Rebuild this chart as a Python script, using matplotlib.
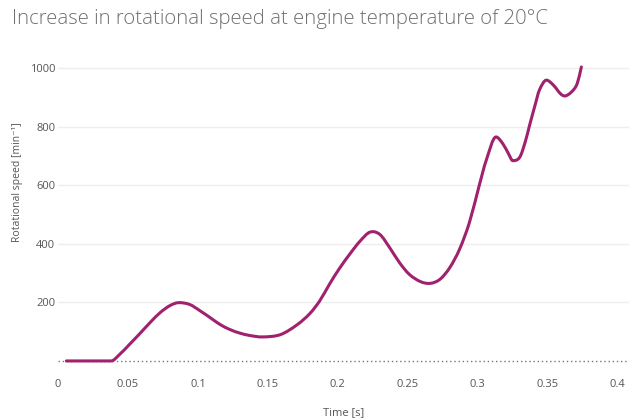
import matplotlib
matplotlib.use('Agg')
import matplotlib.pyplot as plt
from matplotlib.path import Path
from matplotlib.patches import PathPatch

# values
time_s = [0.006, 0.038, 0.044, 0.051, 0.059, 0.066, 0.073, 0.080, 0.086,
          0.094, 0.101, 0.109, 0.116, 0.123, 0.130, 0.137, 0.146, 0.159,
          0.171, 0.180, 0.187, 0.194, 0.201, 0.209, 0.216, 0.223, 0.230,
          0.237, 0.244, 0.251, 0.259, 0.266, 0.273, 0.280, 0.287, 0.294,
          0.301, 0.306, 0.313, 0.318, 0.322, 0.325, 0.330, 0.334,
          0.337, 0.341, 0.344, 0.349, 0.354, 0.359, 0.362, 0.367, 0.371,
          0.374]
speed = [0, 0, 22, 56, 96, 132, 165, 189, 199,
         193, 173, 147, 124, 107, 95, 87, 82, 90,
         124, 162, 205, 262, 315, 368, 410, 440, 432,
         387, 336, 296, 271, 265, 279, 319, 382, 473,
         599, 685, 765, 741, 707, 684, 696, 750,
         805, 875, 925, 959, 942, 913, 905, 919, 947,
         1004]

y_ticks = [200, 400, 600, 800, 1000]
x_ticks = [0, 0.05, 0.1, 0.15, 0.2, 0.25, 0.3, 0.35, 0.4]
x_labels = ["0", "0.05", "0.1", "0.15", "0.2", "0.25", "0.3", "0.35", "0.4"]


def spline_path(xs, ys):
    # smooth cubic through the points, drawn as Bezier segments
    n = len(xs)
    d = [(ys[i + 1] - ys[i]) / (xs[i + 1] - xs[i]) for i in range(n - 1)]
    m = [0.0] * n
    m[0], m[-1] = d[0], d[-1]
    for i in range(1, n - 1):
        if d[i - 1] == 0 or d[i - 1] * d[i] < 0 and abs(d[i - 1]) > 1500 and abs(d[i]) > 1500:
            m[i] = 0.0
        else:
            m[i] = (ys[i + 1] - ys[i - 1]) / (xs[i + 1] - xs[i - 1])
    verts = [(xs[0], ys[0])]
    codes = [Path.MOVETO]
    for i in range(n - 1):
        h = xs[i + 1] - xs[i]
        verts += [(xs[i] + h / 3, ys[i] + m[i] * h / 3),
                  (xs[i + 1] - h / 3, ys[i + 1] - m[i + 1] * h / 3),
                  (xs[i + 1], ys[i + 1])]
        codes += [Path.CURVE4] * 3
    return Path(verts, codes)


plt.rcParams['font.family'] = ['Open Sans', 'DejaVu Sans']

fig = plt.figure(figsize=(6.33, 4.18), dpi=100)
ax = fig.add_axes([0.0916, 0.126, 0.902, 0.732])

ax.axhline(0, color="#777777", lw=1, ls=(0, (1, 2)), zorder=1)
ax.add_patch(PathPatch(spline_path(time_s, speed), facecolor="none",
                       edgecolor="#a0226e", lw=2.2, capstyle="round",
                       joinstyle="round", zorder=3))

ax.set_xlim(0, 0.408)
ax.set_ylim(-15, 1030)
ax.set_xticks(x_ticks)
ax.set_xticklabels(x_labels)
ax.set_yticks(y_ticks)
ax.grid(axis="y", color="#eeeeee", lw=1)
ax.set_axisbelow(True)
for s in ax.spines.values():
    s.set_visible(False)
ax.tick_params(axis="both", length=0, labelsize=8, colors="#555555")
ax.tick_params(axis="x", pad=10)
ax.tick_params(axis="y", pad=2)

ax.set_xlabel("Time [s]", fontsize=8, color="#555555", labelpad=12)
ax.set_ylabel("Rotational speed [min⁻¹]", fontsize=7.5, color="#555555")
ax.yaxis.set_label_coords(-0.062, 0.6)

fig.text(0.019, 0.955, "Increase in rotational speed at engine temperature of 20°C",
         fontsize=14.7, color="#707070", ha="left", va="center", fontweight="light")

fig.savefig("out.png", dpi=100)
plt.close(fig)
